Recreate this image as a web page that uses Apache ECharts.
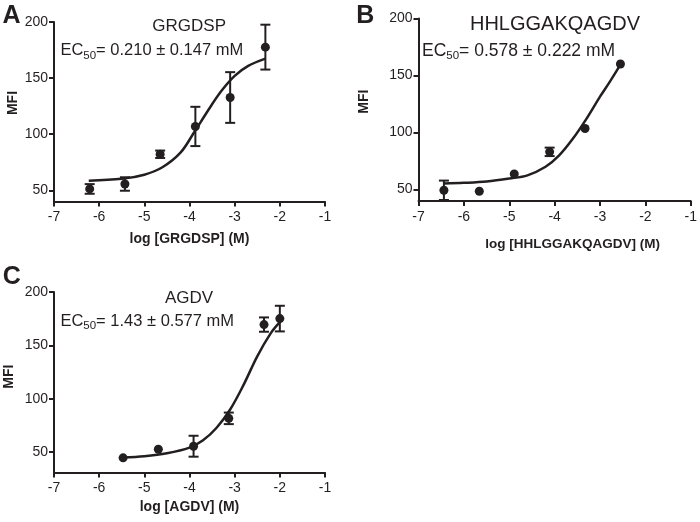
<!DOCTYPE html>
<html><head><meta charset="utf-8">
<script src="https://cdn.jsdelivr.net/npm/echarts@6/dist/echarts.min.js"></script>
<style>html,body{margin:0;padding:0;background:#fff}#c{width:700px;height:522px}</style>
</head><body><div id="c"></div>
<script>
// ---- tick labels ----
const xTickValues = [-7, -6, -5, -4, -3, -2, -1];
const yTickValues = [50, 100, 150, 200];

// ---- Panel A: GRGDSP ----
const aLogConc = [-6.21, -5.43, -4.65, -3.87, -3.10, -2.32];
const aMFI     = [51.2, 55.6, 82.1, 106.9, 132.7, 177.6];
const aSEM     = [4.3, 6.0, 3.3, 17.5, 22.6, 20.0];
const aFitX    = [-6.23, -5.5, -5.0, -4.6, -4.2, -3.9, -3.6, -3.3, -3.0, -2.7, -2.32];
const aFitY    = [58.6, 60.2, 63.9, 70.5, 83.5, 101.5, 120.5, 138.2, 152.0, 160.9, 167.4];

// ---- Panel B: HHLGGAKQAGDV ----
const bLogConc = [-6.44, -5.66, -4.89, -4.11, -3.33, -2.55];
const bMFI     = [49.4, 48.5, 63.7, 83.1, 103.6, 160.1];
const bSEM     = [8.5, 0, 0, 3.7, 0, 0];
const bFitX    = [-6.44, -6.0, -5.5, -5.0, -4.6, -4.2, -3.9, -3.6, -3.3, -3.0, -2.8, -2.55];
const bFitY    = [55.3, 55.9, 57.1, 59.7, 62.5, 70.0, 80.0, 94.5, 112.0, 131.5, 143.5, 159.5];

// ---- Panel C: AGDV ----
const cLogConc = [-5.47, -4.69, -3.91, -3.13, -2.35, -2.00];
const cMFI     = [44.7, 52.8, 55.6, 81.7, 169.5, 175.1];
const cSEM     = [0, 0, 9.8, 5.4, 6.7, 12.0];
const cFitX    = [-5.47, -5.0, -4.5, -4.0, -3.7, -3.4, -3.1, -2.8, -2.5, -2.2, -2.0];
const cFitY    = [45.0, 46.2, 49.0, 54.3, 61.1, 72.9, 90.0, 113.3, 139.8, 161.5, 171.8];

const INK = '#231f20';
const FONT = '"Liberation Sans", Arial, Helvetica, sans-serif';

function pairs(xs, ys) { return xs.map((x, i) => [x, ys[i]]); }
function errData(xs, ys, es) {
  const out = [];
  xs.forEach((x, i) => { if (es[i] > 0) out.push([x, ys[i] - es[i], ys[i] + es[i]]); });
  return out;
}

const panels = [
  {grid: {left: 54, top: 22, width: 271, height: 179.5}, ymin: 40, xs: aLogConc, ys: aMFI, es: aSEM, fx: aFitX, fy: aFitY,
   xname: 'log [GRGDSP] (M)', nameGap: 31, nameSize: 14, namePad: [0, 0, 0, 0]},
  {grid: {left: 418.5, top: 18.5, width: 275.5, height: 182.5}, ymin: 40, xs: bLogConc, ys: bMFI, es: bSEM, fx: bFitX, fy: bFitY,
   xname: 'log [HHLGGAKQAGDV] (M)', nameGap: 36, nameSize: 13.5, namePad: [0, 0, 0, 36]},
  {grid: {left: 54, top: 292, width: 271, height: 180.5}, ymin: 31, xs: cLogConc, ys: cMFI, es: cSEM, fx: cFitX, fy: cFitY,
   xname: 'log [AGDV] (M)', nameGap: 28, nameSize: 14, namePad: [0, 0, 0, 0]}
];

const grids = [], xAxes = [], yAxes = [], series = [];
panels.forEach((p, i) => {
  grids.push(Object.assign({containLabel: false}, p.grid));
  xAxes.push({
    type: 'value', gridIndex: i, min: -7, max: -1, interval: 1,
    axisLine: {show: true, onZero: false, lineStyle: {color: INK, width: 2}},
    axisTick: {show: true, length: 5, lineStyle: {color: INK, width: 2}},
    axisLabel: {color: INK, fontSize: 14, fontFamily: FONT, margin: 9},
    splitLine: {show: false},
    name: p.xname, nameLocation: 'middle', nameGap: p.nameGap,
    nameTextStyle: {color: INK, fontSize: p.nameSize, fontWeight: 'bold', fontFamily: FONT, padding: p.namePad}
  });
  yAxes.push({
    type: 'value', gridIndex: i, min: p.ymin, max: 200,
    axisLine: {show: true, onZero: false, lineStyle: {color: INK, width: 2}},
    axisTick: {show: true, length: 5, customValues: yTickValues, lineStyle: {color: INK, width: 2}},
    axisLabel: {color: INK, fontSize: 14, fontFamily: FONT, margin: 6, customValues: yTickValues},
    splitLine: {show: false}
  });
  series.push({
    type: 'line', xAxisIndex: i, yAxisIndex: i, data: pairs(p.fx, p.fy),
    smooth: 0.35, showSymbol: false, symbol: 'none', silent: true,
    lineStyle: {color: INK, width: 2.5}, z: 2
  });
  series.push({
    type: 'custom', xAxisIndex: i, yAxisIndex: i, data: errData(p.xs, p.ys, p.es), silent: true, z: 3,
    renderItem: function (params, api) {
      const x = api.value(0);
      const lo = api.coord([x, api.value(1)]);
      const hi = api.coord([x, api.value(2)]);
      const hw = 5;
      const st = {stroke: INK, lineWidth: 2};
      return {type: 'group', children: [
        {type: 'line', shape: {x1: lo[0], y1: lo[1], x2: hi[0], y2: hi[1]}, style: st},
        {type: 'line', shape: {x1: hi[0] - hw, y1: hi[1], x2: hi[0] + hw, y2: hi[1]}, style: st},
        {type: 'line', shape: {x1: lo[0] - hw, y1: lo[1], x2: lo[0] + hw, y2: lo[1]}, style: st}
      ]};
    }
  });
  series.push({
    type: 'scatter', xAxisIndex: i, yAxisIndex: i, data: pairs(p.xs, p.ys),
    symbol: 'circle', symbolSize: 9, itemStyle: {color: INK, opacity: 1}, silent: true, z: 4
  });
});

function txt(x, y, text, size, opts) {
  return Object.assign({
    type: 'text', x: x, y: y, silent: true,
    style: Object.assign({text: text, fontSize: size, fontFamily: FONT, fill: INK,
      align: 'center', textAlign: 'center', verticalAlign: 'middle', textVerticalAlign: 'middle'}, (opts && opts.style) || {})
  }, (opts && opts.el) || {});
}
function ec50(x, y, text, size) {
  return {
    type: 'text', x: x, y: y, silent: true,
    style: {
      text: text, fontSize: size, fontFamily: FONT, fill: INK, lineHeight: 22,
      align: 'left', textAlign: 'left', verticalAlign: 'top', textVerticalAlign: 'top',
      rich: {
        n: {fontSize: size, fontFamily: FONT, color: INK, lineHeight: 22, verticalAlign: 'middle'},
        sub: {fontSize: 11.5, fontFamily: FONT, color: INK, lineHeight: 11, verticalAlign: 'bottom'}
      }
    }
  };
}

const graphics = [
  txt(11.5, 16.5, 'A', 25, {style: {fontWeight: 'bold'}}),
  txt(365.3, 16, 'B', 25, {style: {fontWeight: 'bold'}}),
  txt(11.7, 277.5, 'C', 25, {style: {fontWeight: 'bold'}}),
  txt(189.2, 26.5, 'GRGDSP', 17),
  txt(555, 24.2, 'HHLGGAKQAGDV', 20),
  txt(189, 298.3, 'AGDV', 17),
  ec50(60.4, 39.5, '{n|EC}{sub|50}{n|= 0.210 ± 0.147 mM}', 16.5),
  ec50(422, 39.8, '{n|EC}{sub|50}{n|= 0.578 ± 0.222 mM}', 17.5),
  ec50(60.4, 310.3, '{n|EC}{sub|50}{n|= 1.43 ± 0.577 mM}', 16.5),
  txt(13.3, 103, 'MFI', 14, {style: {fontWeight: 'bold'}, el: {rotation: Math.PI / 2}}),
  txt(364, 101.7, 'MFI', 14, {style: {fontWeight: 'bold'}, el: {rotation: Math.PI / 2}}),
  txt(9.5, 376.7, 'MFI', 14, {style: {fontWeight: 'bold'}, el: {rotation: Math.PI / 2}})
];

const chart = echarts.init(document.getElementById('c'), null, {renderer: 'canvas'});
chart.setOption({
  animation: false,
  backgroundColor: '#ffffff',
  grid: grids, xAxis: xAxes, yAxis: yAxes, series: series,
  graphic: graphics
});
</script>
</body></html>
